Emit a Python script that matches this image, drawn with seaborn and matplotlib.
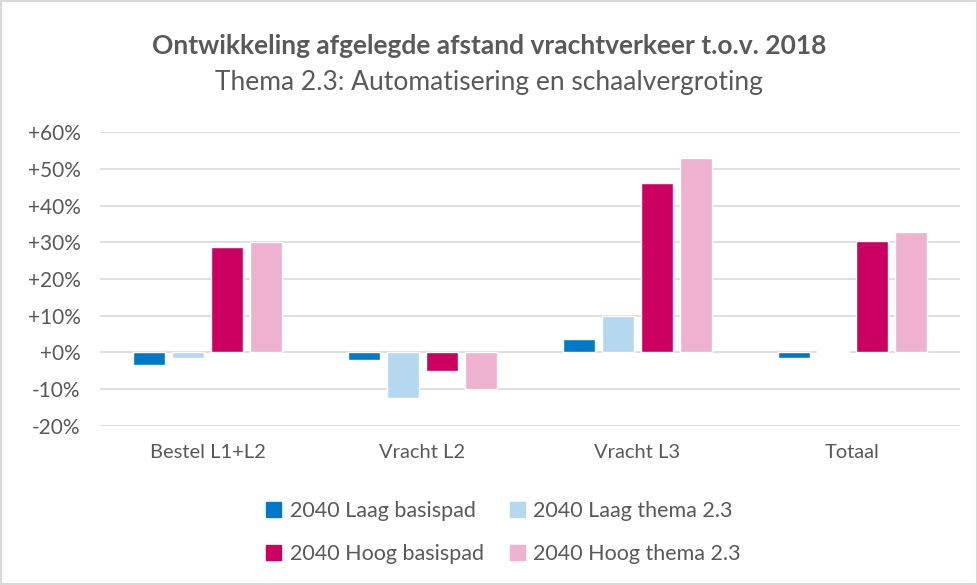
import matplotlib
matplotlib.use("Agg")
import matplotlib.pyplot as plt
import seaborn as sns
import pandas as pd
from matplotlib.patches import Rectangle

categories = ["Bestel L1+L2", "Vracht L2", "Vracht L3", "Totaal"]
series = ["2040 Laag basispad", "2040 Laag thema 2.3", "2040 Hoog basispad", "2040 Hoog thema 2.3"]
laag_basis = [-3.5, -2.0, 3.6, -1.5]
laag_thema = [-1.6, -12.3, 10.0, 0.5]
hoog_basis = [28.6, -5.0, 46.3, 30.5]
hoog_thema = [30.0, -10.0, 53.0, 32.7]
colors = ["#0079C8", "#B3D8EF", "#CC0060", "#EEB1CF"]
yticks = [-20, -10, 0, 10, 20, 30, 40, 50, 60]

rows = []
for s, vals in zip(series, [laag_basis, laag_thema, hoog_basis, hoog_thema]):
    for c, v in zip(categories, vals):
        rows.append({"cat": c, "serie": s, "val": v})
df = pd.DataFrame(rows)

sns.set_theme(style="white")
plt.rcParams["font.family"] = ["Lato", "DejaVu Sans"]
txt = "#595959"

fig = plt.figure(figsize=(9.78, 5.85), dpi=100)
ax = fig.add_axes([0.1022, 0.272, 0.8794, 0.502])
sns.barplot(data=df, x="cat", y="val", hue="serie", palette=colors,
            width=0.726, gap=0.2, ax=ax, legend=False, saturation=1)

ax.set_ylim(-20, 60)
ax.set_xlim(-0.5, 3.5)
ax.set_yticks(yticks)
ax.set_yticklabels([("+%d%%" % t) if t >= 0 else ("%d%%" % t) for t in yticks])
ax.yaxis.grid(True, color="#D9D9D9", linewidth=1.2)
ax.set_axisbelow(True)
for sp in ax.spines.values():
    sp.set_visible(False)
ax.set_xlabel("")
ax.set_ylabel("")
ax.tick_params(axis="both", length=0, colors=txt)
ax.tick_params(axis="y", pad=14, labelsize=15)
ax.tick_params(axis="x", pad=13, labelsize=14.5)

fig.text(0.5, 0.921, "Ontwikkeling afgelegde afstand vrachtverkeer t.o.v. 2018",
         ha="center", va="center", fontsize=19, fontweight="bold", color=txt)
fig.text(0.5, 0.859, "Thema 2.3: Automatisering en schaalvergroting",
         ha="center", va="center", fontsize=19, color=txt)

order = [0, 2, 1, 3]
handles = [Rectangle((0, 0), 1, 1, color=colors[i]) for i in order]
labels = [series[i] for i in order]
leg = fig.legend(handles, labels, loc="center", bbox_to_anchor=(0.515, 0.09), ncol=2,
                 frameon=False, fontsize=15.5, handlelength=0.7, handleheight=0.7,
                 handletextpad=0.4, columnspacing=1.2, labelspacing=1.05)
for t in leg.get_texts():
    t.set_color(txt)

fig.patches.append(Rectangle((0.001, 0.001), 0.998, 0.998, transform=fig.transFigure,
                             fill=False, edgecolor="#D9D9D9", linewidth=1.5))
fig.savefig("out.png", dpi=100)
